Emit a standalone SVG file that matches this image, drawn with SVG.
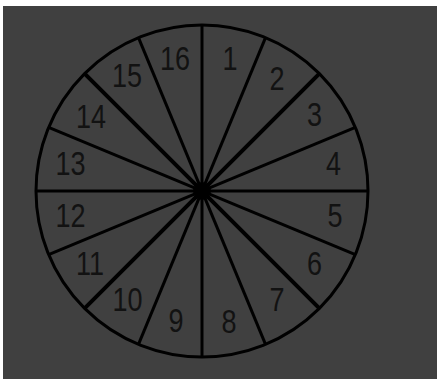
<svg xmlns="http://www.w3.org/2000/svg" width="437" height="381" viewBox="0 0 437 381">
  <style>
    .spoke { stroke: #000; stroke-width: 3; fill: none; }
    .diag { stroke-width: 4; }
    .lbl { font-family: "Liberation Sans", Arial, sans-serif; font-size: 33px; fill: #121212; text-anchor: middle; }
  </style>
  <rect x="0" y="0" width="437" height="381" fill="#ffffff"/>
  <rect x="3" y="6" width="434" height="373" fill="#404040"/>
  <g id="wheel">
    <circle cx="202" cy="191" r="166" fill="none" stroke="#000" stroke-width="3"/>
  </g>
  <g id="spokes">
    <line class="spoke" x1="202" y1="25" x2="202" y2="357"/>
    <line class="spoke" x1="265.53" y1="37.64" x2="138.47" y2="344.36"/>
    <line class="spoke diag" x1="319.38" y1="73.62" x2="84.62" y2="308.38"/>
    <line class="spoke" x1="355.36" y1="127.47" x2="48.64" y2="254.53"/>
    <line class="spoke" x1="368" y1="191" x2="36" y2="191"/>
    <line class="spoke" x1="355.36" y1="254.53" x2="48.64" y2="127.47"/>
    <line class="spoke diag" x1="319.38" y1="308.38" x2="84.62" y2="73.62"/>
    <line class="spoke" x1="265.53" y1="344.36" x2="138.47" y2="37.64"/>
    <circle cx="202" cy="191" r="9" fill="#000"/>
  </g>
  <g id="labels">
    <text class="lbl" transform="translate(230,70) scale(0.82,1)">1</text>
    <text class="lbl" transform="translate(277,90) scale(0.82,1)">2</text>
    <text class="lbl" transform="translate(314.5,126) scale(0.82,1)">3</text>
    <text class="lbl" transform="translate(333.5,174.5) scale(0.82,1)">4</text>
    <text class="lbl" transform="translate(335,227) scale(0.82,1)">5</text>
    <text class="lbl" transform="translate(314.5,275) scale(0.82,1)">6</text>
    <text class="lbl" transform="translate(277,311) scale(0.82,1)">7</text>
    <text class="lbl" transform="translate(229,333) scale(0.82,1)">8</text>
    <text class="lbl" transform="translate(176,332) scale(0.82,1)">9</text>
    <text class="lbl" transform="translate(127.5,311) scale(0.82,1)">10</text>
    <text class="lbl" transform="translate(90,275) scale(0.82,1)">11</text>
    <text class="lbl" transform="translate(70.5,227) scale(0.82,1)">12</text>
    <text class="lbl" transform="translate(70.5,175) scale(0.82,1)">13</text>
    <text class="lbl" transform="translate(91,128) scale(0.82,1)">14</text>
    <text class="lbl" transform="translate(127,87) scale(0.82,1)">15</text>
    <text class="lbl" transform="translate(175,70) scale(0.82,1)">16</text>
  </g>
</svg>
